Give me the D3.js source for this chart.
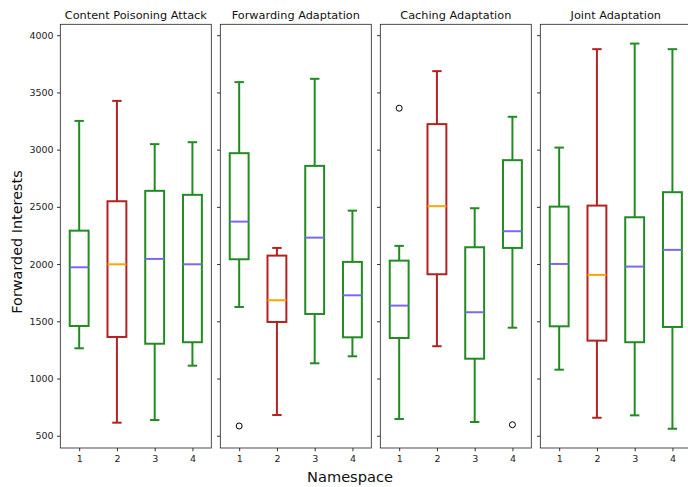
<!DOCTYPE html>
<html>
<head>
<meta charset="utf-8">
<script src="https://cdn.jsdelivr.net/npm/d3@7"></script>
<style>
    body { margin: 0; background: #fff; }
    svg { font-family: "DejaVu Sans", sans-serif; }
</style>
</head>
<body>
<svg id="chart" width="688" height="487"></svg>
<script>
// panel titles and the namespaces on each x axis
const scenarios = ["Content Poisoning Attack", "Forwarding Adaptation", "Caching Adaptation", "Joint Adaptation"];
const namespaces = [1, 2, 3, 4];
const attackedNamespace = 2;

// box statistics, one row per scenario, one value per namespace
const whiskerLow = [
    [1264, 614, 637, 1112],
    [1625, 681, 1133, 1194],
    [646, 1282, 620, 1444],
    [1077, 657, 678, 561]
];
const q1 = [
    [1459, 1363, 1304, 1317],
    [2042, 1494, 1564, 1360],
    [1354, 1911, 1173, 2141],
    [1456, 1331, 1317, 1450]
];
const median = [
    [1972, 1998, 2045, 1998],
    [2371, 1684, 2231, 1727],
    [1637, 2506, 1579, 2287],
    [2001, 1905, 1978, 2124]
];
const q3 = [
    [2292, 2549, 2640, 2605],
    [2969, 2074, 2858, 2019],
    [2030, 3223, 2147, 2908],
    [2502, 2511, 2409, 2628]
];
const whiskerHigh = [
    [3251, 3426, 3048, 3065],
    [3590, 2141, 3619, 2467],
    [2159, 3686, 2488, 3287],
    [3018, 3878, 3927, 3878]
];
// outliers as [namespace, value]
const outliers = [
    [],
    [[1, 585]],
    [[1, 3362], [4, 596]],
    []
];

const yTicks = [500, 1000, 1500, 2000, 2500, 3000, 3500, 4000];

const svg = d3.select("#chart");
const plotTop = 24.3, plotBottom = 448, plotLeft = 60.3, panelW = 151, panelStep = 160;

const yMin = d3.min(whiskerLow.flat().concat(outliers.flat().map(d => d[1])));
const yMax = d3.max(whiskerHigh.flat().concat(outliers.flat().map(d => d[1])));
const pad = (yMax - yMin) * 0.05;
const y = d3.scaleLinear().domain([yMin - pad, yMax + pad]).range([plotBottom, plotTop]);

const boxColor = n => n === attackedNamespace ? "#b22222" : "#228b22";
const medianColor = n => n === attackedNamespace ? "#ffa500" : "#7b68ee";

scenarios.forEach((title, p) => {
    const x0 = plotLeft + p * panelStep;
    const x = d3.scaleLinear().domain([0.5, 4.5]).range([x0, x0 + panelW]);
    const g = svg.append("g");

    const yAxis = g.append("g")
        .attr("transform", `translate(${x0},0)`)
        .call(d3.axisLeft(y).tickValues(yTicks).tickSize(3.3).tickPadding(3.4)
            .tickFormat(p === 0 ? d3.format("d") : ""));
    const xAxis = g.append("g")
        .attr("transform", `translate(0,${plotBottom})`)
        .call(d3.axisBottom(x).tickValues(namespaces).tickSize(3.3).tickPadding(3.6).tickFormat(d3.format("d")));
    [yAxis, xAxis].forEach(a => {
        a.select(".domain").remove();
        a.selectAll("line").attr("stroke", "#000").attr("stroke-width", 0.8);
        a.selectAll("text").attr("fill", "#222").style("font-size", "9.5px").style("font-family", "DejaVu Sans");
    });

    g.append("rect")
        .attr("x", x0).attr("y", plotTop)
        .attr("width", panelW).attr("height", plotBottom - plotTop)
        .attr("fill", "none").attr("stroke", "#222").attr("stroke-width", 0.8);

    g.append("text")
        .attr("x", x0 + panelW / 2).attr("y", plotTop - 5.8)
        .attr("text-anchor", "middle")
        .style("font-size", "11.3px")
        .attr("fill", "#111")
        .text(title);

    const half = (x(1.25) - x(1)), cap = half / 2;
    const boxes = g.selectAll(".box").data(namespaces).enter().append("g");

    boxes.append("line")
        .attr("x1", n => x(n)).attr("x2", n => x(n))
        .attr("y1", (n, i) => y(whiskerLow[p][i])).attr("y2", (n, i) => y(q1[p][i]))
        .attr("stroke", boxColor).attr("stroke-width", 2);
    boxes.append("line")
        .attr("x1", n => x(n)).attr("x2", n => x(n))
        .attr("y1", (n, i) => y(q3[p][i])).attr("y2", (n, i) => y(whiskerHigh[p][i]))
        .attr("stroke", boxColor).attr("stroke-width", 2);
    [whiskerLow, whiskerHigh].forEach(w => {
        boxes.append("line")
            .attr("x1", n => x(n) - cap).attr("x2", n => x(n) + cap)
            .attr("y1", (n, i) => y(w[p][i])).attr("y2", (n, i) => y(w[p][i]))
            .attr("stroke", boxColor).attr("stroke-width", 2);
    });
    boxes.append("rect")
        .attr("x", n => x(n) - half).attr("width", 2 * half)
        .attr("y", (n, i) => y(q3[p][i]))
        .attr("height", (n, i) => y(q1[p][i]) - y(q3[p][i]))
        .attr("fill", "none").attr("stroke", boxColor).attr("stroke-width", 2);
    boxes.append("line")
        .attr("x1", n => x(n) - half).attr("x2", n => x(n) + half)
        .attr("y1", (n, i) => y(median[p][i])).attr("y2", (n, i) => y(median[p][i]))
        .attr("stroke", medianColor).attr("stroke-width", 2);

    g.selectAll(".flier").data(outliers[p]).enter().append("circle")
        .attr("cx", d => x(d[0])).attr("cy", d => y(d[1]))
        .attr("r", 3).attr("fill", "none").attr("stroke", "#000").attr("stroke-width", 1);
});

svg.append("text")
    .attr("transform", "translate(21.5,242) rotate(-90)")
    .attr("text-anchor", "middle")
    .style("font-size", "14.4px").attr("fill", "#111")
    .text("Forwarded Interests");

svg.append("text")
    .attr("x", 350).attr("y", 481.5)
    .attr("text-anchor", "middle")
    .style("font-size", "14.6px").attr("fill", "#111")
    .text("Namespace");
</script>
</body>
</html>
